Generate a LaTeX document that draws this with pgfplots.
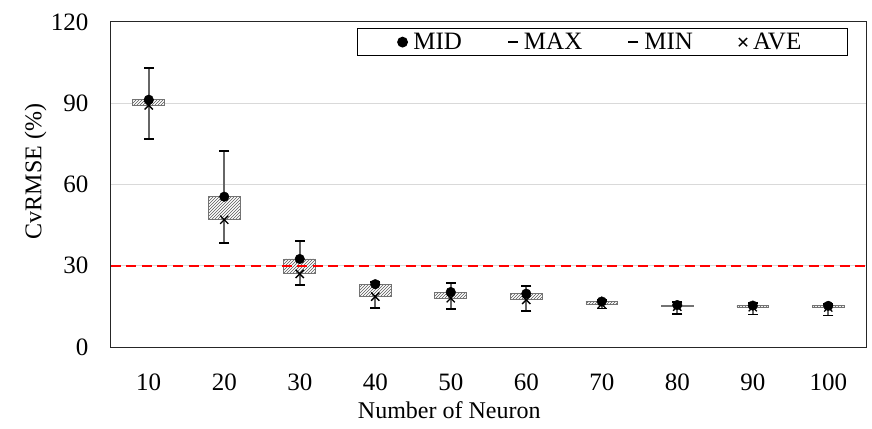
\documentclass[border=0pt]{standalone}
\usepackage{pgfplots}
\pgfplotsset{compat=1.18}
\usepackage{pgfplotstable}
\usepackage{fontspec}
\setmainfont{Liberation Serif}
\usetikzlibrary{patterns}

\pgfplotstableread{
x max min mid ave
1 103 76.8 91.3 89.2
2 72.5 38.3 55.5 47.0
3 39 22.9 32.5 27.0
4 24 14.3 23.2 18.6
5 23.5 14 20.3 18.0
6 22.6 13.4 19.7 17.4
7 17.5 14.2 16.8 15.8
8 16.5 12.3 15.5 14.9
9 16.2 12.0 15.3 14.7
10 16.0 11.6 15.2 14.6
}\data

\pgfplotsset{
  common/.style={
    width=755pt, height=325pt, scale only axis,
    xmin=0.5, xmax=10.5, ymin=0, ymax=120,
    at={(0pt,0pt)}, anchor=south west,
    major tick length=0pt,
  },
}

\begin{document}
\begin{tikzpicture}
% layer 1: grid and high-low lines
\begin{axis}[common,
  axis line style={draw=none},
  xtick=\empty, ytick={30,60,90}, yticklabels={},
  ymajorgrids, major grid style={draw=black!15, line width=1.2pt},
]
\addplot[draw=none, forget plot,
  error bars/.cd, y dir=both, y explicit, error mark=none,
  error bar style={draw=black!60, solid, line width=1.6pt}]
  table[x=x, y expr={(\thisrow{max}+\thisrow{min})/2},
        y error expr={(\thisrow{max}-\thisrow{min})/2}] {\data};
\end{axis}
% layer 2: up-down bars between MID and AVE
\begin{axis}[common, ybar stacked, bar width=0.42,
  axis line style={draw=none}, xtick=\empty, ytick=\empty]
\addplot[draw=none, fill=none] table[x=x, y expr={min(\thisrow{mid},\thisrow{ave})}] {\data};
\addplot[draw=black!55, line width=0.8pt, fill=white,
  postaction={pattern=north east lines, pattern color=black!65}]
  table[x=x, y expr={abs(\thisrow{mid}-\thisrow{ave})}] {\data};
\end{axis}
% layer 3: markers, labels, legend
\begin{axis}[common,
  axis line style={draw=black!85, line width=1pt},
  xtick={1,2,3,4,5,6,7,8,9,10},
  xticklabels={10,20,30,40,50,60,70,80,90,100},
  ytick={0,30,60,90,120},
  /pgf/number format/assume math mode=true,
  tick label style={font=\fontsize{25}{30}\selectfont, black},
  xticklabel style={yshift=-23pt},
  yticklabel style={xshift=-19pt},
  xlabel={Number of Neuron},
  ylabel={CvRMSE (\%)},
  every axis x label/.style={at={(axis description cs:0.448,-0.195)}, anchor=center,
    font=\fontsize{24}{29}\selectfont},
  every axis y label/.style={at={(axis description cs:-0.1,0.54)}, rotate=90, anchor=center,
    font=\fontsize{24}{29}\selectfont},
  legend columns=4,
  legend image code/.code={\draw[mark repeat=2,mark phase=2,#1] plot coordinates {(0pt,0pt)(5pt,0pt)(10pt,0pt)};},
  legend style={at={(0.976,0.9815)}, anchor=north east,
    font=\fontsize{25}{30}\selectfont,
    draw=black, line width=1.2pt,
    inner xsep=40pt, inner ysep=3pt,
    nodes={inner xsep=6pt, inner ysep=1.5pt},
    /tikz/every even column/.append style={column sep=40pt}},
]
\addplot[red, line width=2.2pt, dash pattern=on 10pt off 5.5pt, forget plot]
  coordinates {(0.5,30) (10.5,30)};
\addplot[only marks, mark=*, mark size=4.8pt, black] table[x=x, y=mid] {\data};
\addlegendentry{MID}
\addplot[only marks, mark=-, mark size=5pt, black, line width=1.8pt] table[x=x, y=max] {\data};
\addlegendentry{MAX}
\addplot[only marks, mark=-, mark size=5pt, black, line width=1.8pt] table[x=x, y=min] {\data};
\addlegendentry{MIN}
\addplot[only marks, mark=x, mark size=5.8pt, black, line width=1.3pt] table[x=x, y=ave] {\data};
\addlegendentry{AVE}
\end{axis}
\pgfresetboundingbox
\useasboundingbox (-111pt,-81pt) rectangle (761pt,347pt);
\end{tikzpicture}
\end{document}
